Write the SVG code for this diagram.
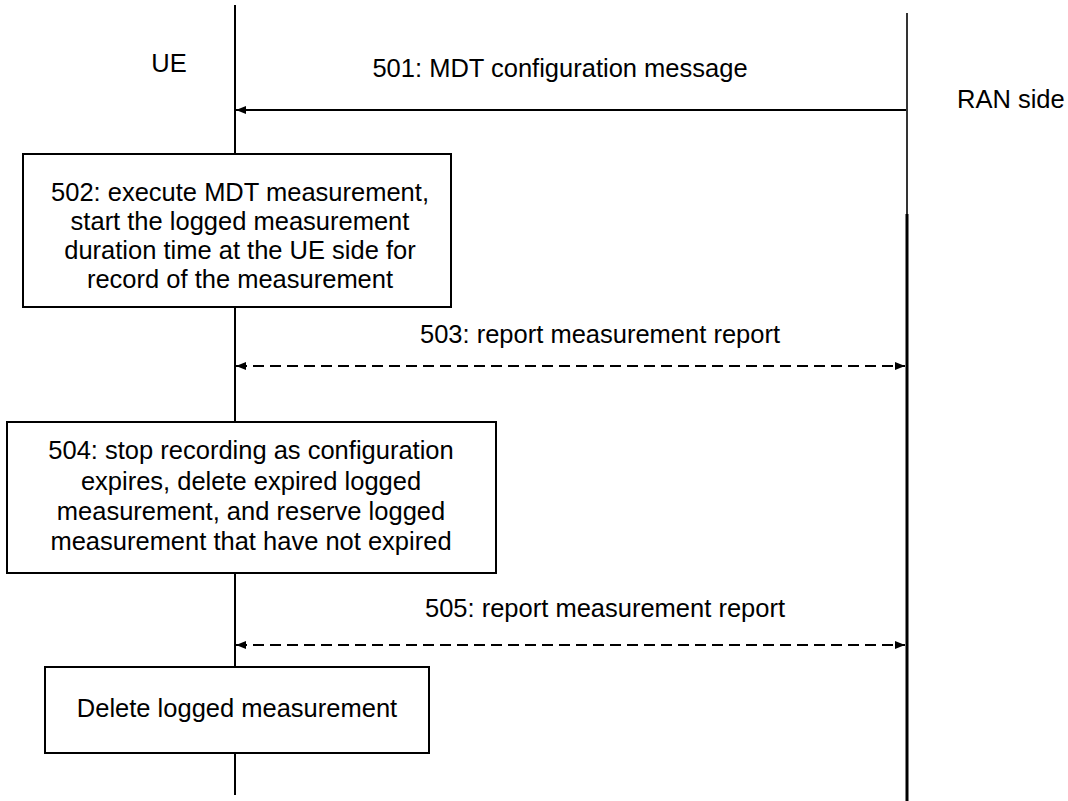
<svg xmlns="http://www.w3.org/2000/svg" width="1068" height="801" viewBox="0 0 1068 801">
<style>
text{font-family:"Liberation Sans",Arial,sans-serif;font-size:25.5px;fill:#000}
.box{fill:#fff;stroke:#000;stroke-width:2}
.life{stroke:#000;fill:none}
.msg{stroke:#000;stroke-width:2;fill:none}
.dash{stroke-dasharray:11 6}
</style>
<defs>
<marker id="ah" markerUnits="userSpaceOnUse" markerWidth="10" markerHeight="10" viewBox="0 0 10 10" refX="10" refY="5" orient="auto-start-reverse">
<path d="M0,1 L10,5 L0,9 Z" fill="#000"/>
</marker>
</defs>
<g id="lifelines">
<line class="life" x1="235" y1="5" x2="235" y2="795" stroke-width="2"/>
<line class="life" x1="907" y1="13" x2="907" y2="214" stroke-width="1.6"/>
<line class="life" x1="907" y1="214" x2="907" y2="801" stroke-width="3"/>
</g>
<g id="labels">
<text x="169" y="72" text-anchor="middle">UE</text>
<text x="957" y="108">RAN side</text>
</g>
<g id="connectors">
<line class="msg" x1="906" y1="110" x2="236" y2="110" marker-end="url(#ah)"/>
<text x="560" y="77" text-anchor="middle">501: MDT configuration message</text>
<line class="msg dash" x1="236" y1="366" x2="905" y2="366" marker-start="url(#ah)" marker-end="url(#ah)"/>
<text x="600" y="343" text-anchor="middle">503: report measurement report</text>
<line class="msg dash" x1="236" y1="645" x2="905" y2="645" marker-start="url(#ah)" marker-end="url(#ah)"/>
<text x="605" y="617" text-anchor="middle">505: report measurement report</text>
</g>
<g id="n502">
<rect class="box" x="23" y="154" width="428" height="153"/>
<text x="237" text-anchor="middle"><tspan x="240" y="201">502: execute MDT measurement,</tspan><tspan x="240" y="230">start the logged measurement</tspan><tspan x="240" y="259">duration time at the UE side for</tspan><tspan x="240" y="288">record of the measurement</tspan></text>
</g>
<g id="n504">
<rect class="box" x="7" y="422" width="489" height="151"/>
<text text-anchor="middle"><tspan x="251" y="459">504: stop recording as configuration</tspan><tspan x="251" y="490">expires, delete expired logged</tspan><tspan x="251" y="520">measurement, and reserve logged</tspan><tspan x="251" y="550">measurement that have not expired</tspan></text>
</g>
<g id="n506">
<rect class="box" x="45" y="667" width="384" height="86"/>
<text x="237" y="717" text-anchor="middle">Delete logged measurement</text>
</g>
</svg>
